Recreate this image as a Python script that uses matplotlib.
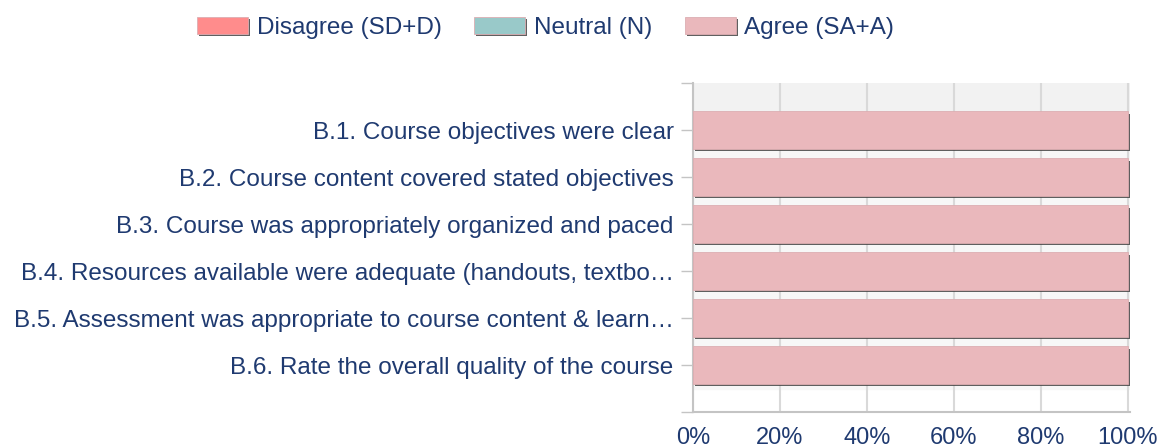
import matplotlib.pyplot as plt
import matplotlib.patheffects as pe

preguntas = [
    "B.1. Course objectives were clear",
    "B.2. Course content covered stated objectives",
    "B.3. Course was appropriately organized and paced",
    "B.4. Resources available were adequate (handouts, textbo\u2026",
    "B.5. Assessment was appropriate to course content & learn\u2026",
    "B.6. Rate the overall quality of the course",
]
desacuerdo = [0, 0, 0, 0, 0, 0]
neutral = [0, 0, 0, 0, 0, 0]
acuerdo = [100, 100, 100, 100, 100, 100]
series = ["Disagree (SD+D)", "Neutral (N)", "Agree (SA+A)"]
colores = ["#ff8c8c", "#99c9c9", "#eab8bc"]
xticks = [0, 20, 40, 60, 80, 100]

texto = "#1f3a70"
plt.rcParams['font.family'] = ['Liberation Sans', 'DejaVu Sans']

fig = plt.figure(figsize=(11.63, 4.48), dpi=100)
ax = fig.add_axes([693 / 1163, 1 - 412 / 448, 437 / 1163, 329 / 448])

sombra = [pe.SimplePatchShadow(offset=(1.5, -1.5), shadow_rgbFace='#444444', alpha=0.85), pe.Normal()]
y = list(range(len(preguntas)))
izq = [0] * len(preguntas)
for nombre, valores, color in zip(series, [desacuerdo, neutral, acuerdo], colores):
    barras = ax.barh(y, valores, left=izq, height=0.79, color=color,
                     edgecolor='#dcaeb2', linewidth=0.6, label=nombre, zorder=3)
    for b in barras:
        if b.get_width() > 0:
            b.set_path_effects(sombra)
    izq = [a + v for a, v in zip(izq, valores)]

ax.axhspan(-1, -0.4, color='#f2f2f2', zorder=0)
ax.axhspan(-0.4, len(preguntas) - 0.5, color='#f7f7f7', zorder=0)
ax.set_xlim(0, 100.5)
ax.set_ylim(len(preguntas), -1)
ax.set_yticks(y)
ax.set_yticklabels(preguntas)
ax.set_yticks([-1, len(preguntas)], minor=True)
ax.set_xticks(xticks)
ax.set_xticklabels([f"{v}%" for v in xticks])
ax.grid(axis='x', color='#d9d9d9', linewidth=1.5, zorder=1)
ax.set_axisbelow(True)

for s in ['top', 'right']:
    ax.spines[s].set_visible(False)
for s in ['left', 'bottom']:
    ax.spines[s].set_color('#c4c4c4')
    ax.spines[s].set_linewidth(1.5)
ax.tick_params(axis='y', which='both', length=9, color='#c4c4c4', width=1, pad=5,
               labelsize=17.5, labelcolor=texto)
ax.tick_params(axis='x', length=0, pad=11, labelsize=17, labelcolor=texto)

ley = fig.legend(loc='center left', bbox_to_anchor=(197 / 1163, 1 - 28 / 448), ncol=3, frameon=False,
                 fontsize=17.5, labelcolor=texto, handlelength=2.1, handleheight=0.65,
                 handletextpad=0.35, columnspacing=1.35, borderpad=0, borderaxespad=0)
for h in ley.legend_handles:
    h.set_path_effects(sombra)

fig.savefig("out.png", dpi=100)
